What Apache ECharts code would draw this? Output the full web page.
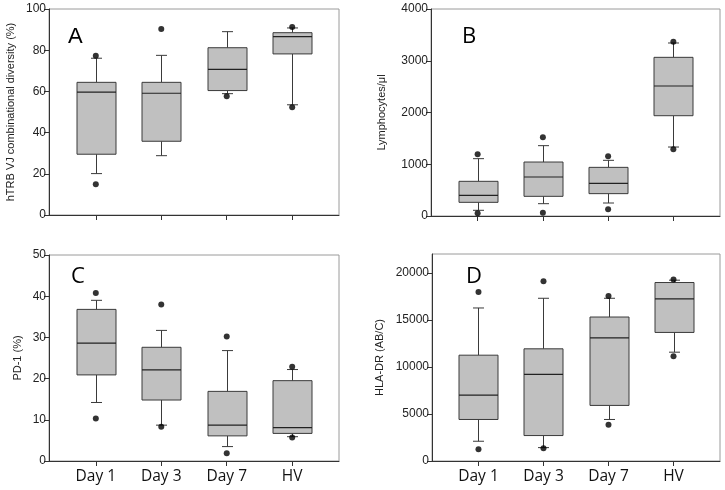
<!DOCTYPE html>
<html>
<head>
<meta charset="utf-8">
<script src="https://cdn.jsdelivr.net/npm/echarts@6/dist/echarts.min.js"></script>
<style>
html,body{margin:0;padding:0;background:#fff;}
#chart{width:725px;height:490px;}
</style>
</head>
<body>
<div id="chart"></div>
<script>
// ---- data ----
var categories = ['Day 1', 'Day 3', 'Day 7', 'HV'];

// Panel A: hTRB VJ combinational diversity (%)
var aLow  = [20.1, 28.8, 58.9, 53.5];
var aQ1   = [29.5, 35.8, 60.4, 78.2];
var aMed  = [59.6, 59.1, 70.7, 86.6];
var aQ3   = [64.4, 64.4, 81.2, 88.5];
var aHigh = [76.1, 77.5, 89.0, 90.8];
var aOut  = [[1, 77.3], [1, 14.9], [2, 90.3], [3, 57.6], [4, 91.3], [4, 52.3]];

// Panel B: Lymphocytes/μl
var bLow  = [110, 238, 251, 1333];
var bQ1   = [264, 380, 432, 1938];
var bMed  = [399, 754, 631, 2512];
var bQ3   = [670, 1043, 940, 3066];
var bHigh = [1108, 1359, 1076, 3343];
var bOut  = [[1, 1192], [1, 52], [2, 1520], [2, 64], [3, 1153], [3, 129], [4, 3368], [4, 1288]];

// Panel C: PD-1 (%)
var cLow  = [14.2, 8.7, 3.5, 5.9];
var cQ1   = [20.9, 14.8, 6.1, 6.7];
var cMed  = [28.6, 22.1, 8.7, 8.1];
var cQ3   = [36.8, 27.6, 16.9, 19.5];
var cHigh = [39.0, 31.7, 26.8, 22.2];
var cOut  = [[1, 40.8], [1, 10.3], [2, 38.0], [2, 8.3], [3, 30.2], [3, 1.9], [4, 22.9], [4, 5.7]];

// Panel D: HLA-DR (AB/C)
var dLow  = [2100, 1423, 4413, 11566];
var dQ1   = [4413, 2705, 5907, 13665];
var dMed  = [7011, 9217, 13096, 17224];
var dQ3   = [11246, 11922, 15302, 18968];
var dHigh = [16263, 17295, 17295, 19217];
var dOut  = [[1, 17972], [1, 1246], [2, 19110], [2, 1352], [3, 17544], [3, 3843], [4, 19288], [4, 11139]];

var aTicks = [0, 20, 40, 60, 80, 100];
var bTicks = [0, 1000, 2000, 3000, 4000];
var cTicks = [0, 10, 20, 30, 40, 50];
var dTicks = [0, 5000, 10000, 15000, 20000];

// ---- build ----
var catPos = categories.map(function (c, i) { return i + 1; });

function boxData(lo, q1, med, q3, hi) {
  return catPos.map(function (x, i) { return [x, lo[i], q1[i], med[i], q3[i], hi[i]]; });
}

function renderBox(params, api) {
  var x = api.value(0);
  var lo = api.coord([x, api.value(1)]);
  var q1 = api.coord([x, api.value(2)]);
  var med = api.coord([x, api.value(3)]);
  var q3 = api.coord([x, api.value(4)]);
  var hi = api.coord([x, api.value(5)]);
  var cx = Math.round(lo[0]) + 0.5;
  var bw = 39, cw = 11;
  var ls = { stroke: '#3a3a3a', lineWidth: 1 };
  return {
    type: 'group',
    children: [
      { type: 'line', shape: { x1: cx, y1: q3[1], x2: cx, y2: hi[1] }, style: ls },
      { type: 'line', shape: { x1: cx - cw / 2, y1: hi[1], x2: cx + cw / 2, y2: hi[1] }, style: ls },
      { type: 'line', shape: { x1: cx, y1: q1[1], x2: cx, y2: lo[1] }, style: ls },
      { type: 'line', shape: { x1: cx - cw / 2, y1: lo[1], x2: cx + cw / 2, y2: lo[1] }, style: ls },
      { type: 'rect', shape: { x: cx - bw / 2, y: q3[1], width: bw, height: q1[1] - q3[1] },
        style: { fill: '#c0c0c0', stroke: '#3a3a3a', lineWidth: 1 } },
      { type: 'line', shape: { x1: cx - bw / 2, y1: med[1], x2: cx + bw / 2, y2: med[1] }, style: { stroke: '#222', lineWidth: 1.2 } }
    ]
  };
}

var grids = [
  { left: 49, top: 9, width: 290, height: 206 },
  { left: 431, top: 9, width: 289, height: 207 },
  { left: 49, top: 255, width: 290, height: 206 },
  { left: 432, top: 254, width: 288, height: 207 }
];
grids.forEach(function (g) { g.show = true; g.borderColor = '#9a9a9a'; g.borderWidth = 1; g.backgroundColor = 'transparent'; });

function xAxis(idx, showLabels) {
  return {
    type: 'value', gridIndex: idx, min: 0.285, max: 4.715,
    splitLine: { show: false },
    axisLine: { show: true, lineStyle: { color: '#333', width: 1 } },
    axisTick: { show: true, length: 5, inside: false, customValues: catPos, lineStyle: { color: '#333' } },
    axisLabel: {
      show: showLabels, customValues: catPos, margin: 8,
      fontFamily: 'Open Sans', fontSize: 15.5, color: '#111',
      formatter: function (v) { return categories[Math.round(v) - 1] || ''; }
    }
  };
}

function yAxis(idx, max, ticks, name, gap) {
  return {
    type: 'value', gridIndex: idx, min: 0, max: max,
    name: name, nameLocation: 'middle', nameRotate: 90, nameGap: gap,
    nameTextStyle: { fontFamily: 'Liberation Sans', fontSize: 11, color: '#222' },
    splitLine: { show: false },
    axisLine: { show: true, lineStyle: { color: '#333', width: 1 } },
    axisTick: { show: true, length: 5, inside: false, customValues: ticks, lineStyle: { color: '#333' } },
    axisLabel: { customValues: ticks, margin: 3, fontFamily: 'Liberation Sans', fontSize: 12, color: '#222',
      formatter: function (v) { return String(v); } }
  };
}

var boxes = [
  boxData(aLow, aQ1, aMed, aQ3, aHigh),
  boxData(bLow, bQ1, bMed, bQ3, bHigh),
  boxData(cLow, cQ1, cMed, cQ3, cHigh),
  boxData(dLow, dQ1, dMed, dQ3, dHigh)
];
var outs = [aOut, bOut, cOut, dOut];

var series = [];
boxes.forEach(function (d, i) {
  series.push({
    type: 'custom', xAxisIndex: i, yAxisIndex: i, data: d,
    encode: { x: 0, y: [1, 2, 3, 4, 5] },
    renderItem: renderBox, silent: true
  });
  series.push({
    type: 'scatter', xAxisIndex: i, yAxisIndex: i, data: outs[i],
    symbol: 'circle', symbolSize: 6, itemStyle: { color: '#000' }, silent: true, z: 5
  });
});

function letter(t, left, top, font) {
  return { text: t, left: left, top: top, padding: 0,
    textStyle: { fontFamily: font, fontSize: 22, fontWeight: 'normal', color: '#000' } };
}

var option = {
  animation: false,
  backgroundColor: '#fff',
  title: [
    letter('A', 68, 26, 'Liberation Sans'),
    letter('B', 462, 26, 'Open Sans'),
    letter('C', 71, 266, 'Open Sans'),
    letter('D', 466, 266, 'Open Sans')
  ],
  grid: grids,
  xAxis: [xAxis(0, false), xAxis(1, false), xAxis(2, true), xAxis(3, true)],
  yAxis: [
    yAxis(0, 100, aTicks, 'hTRB VJ combinational diversity (%)', 33),
    yAxis(1, 4000, bTicks, 'Lymphocytes/\u03bcl', 44),
    yAxis(2, 50, cTicks, 'PD-1 (%)', 26),
    yAxis(3, 22000, dTicks, 'HLA-DR (AB/C)', 47)
  ],
  series: series
};

var chart = echarts.init(document.getElementById('chart'), null, { renderer: 'canvas' });
chart.setOption(option);
</script>
</body>
</html>
